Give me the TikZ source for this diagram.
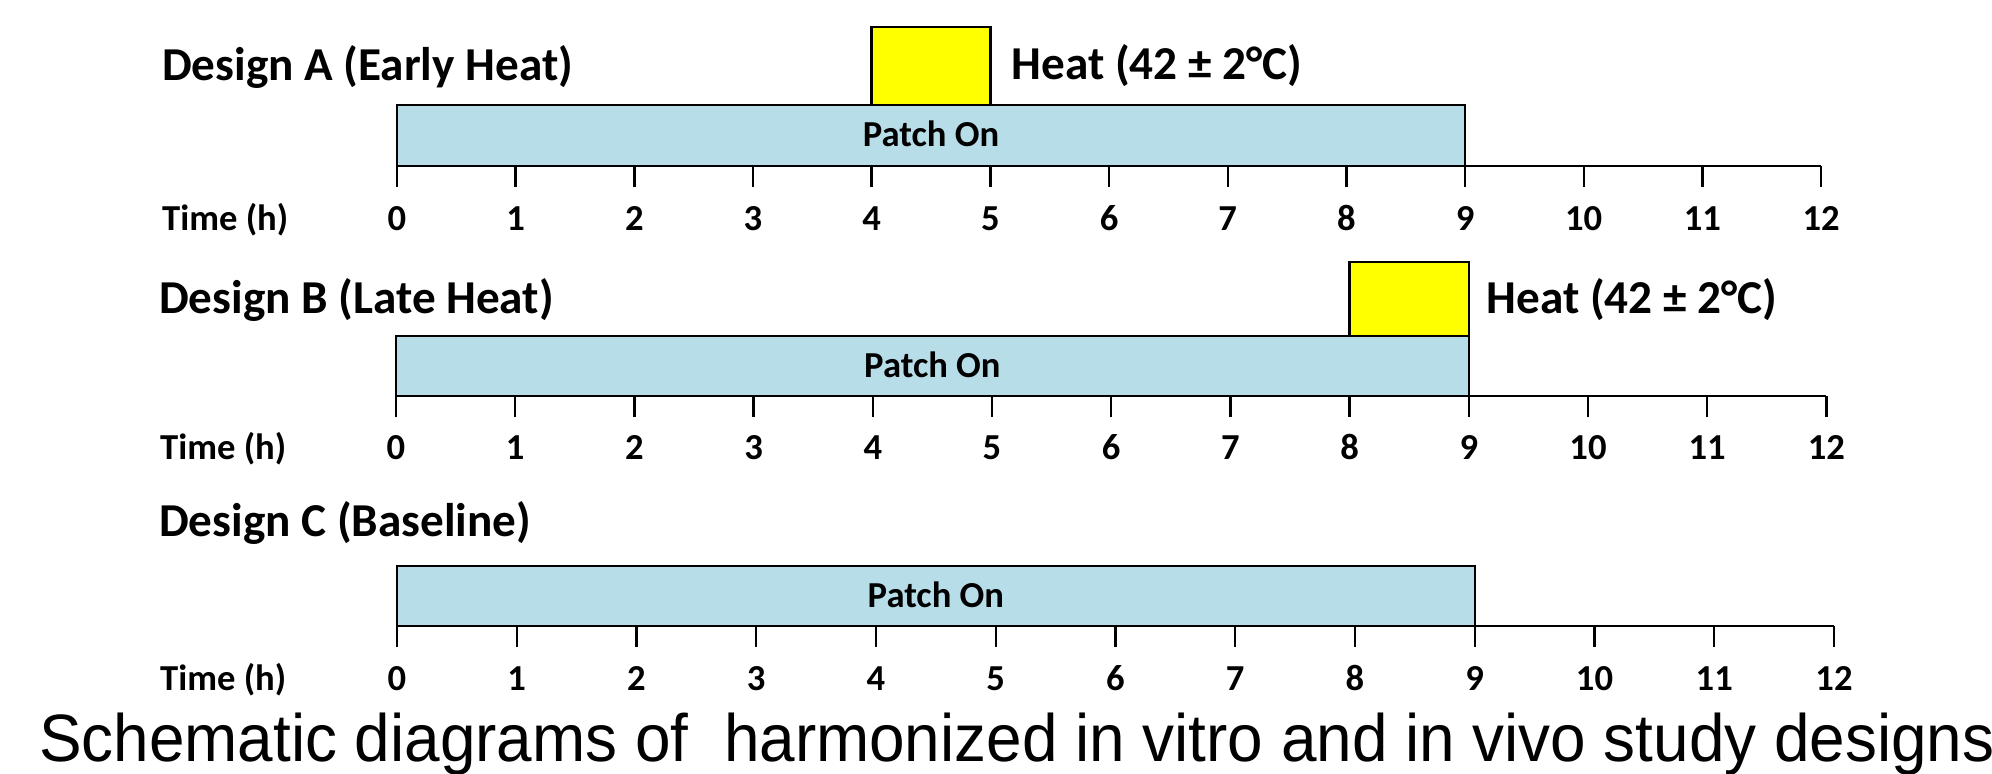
\documentclass[tikz,border=0pt]{standalone}
\usepackage{fontspec}
\setmainfont{Carlito}
\newfontfamily\captionfont[FakeStretch=0.953]{Liberation Sans}
\usetikzlibrary{positioning}
\definecolor{patchblue}{HTML}{B7DDE8}
\definecolor{heatyellow}{HTML}{FFFF00}

\begin{document}
\begin{tikzpicture}[x=0.5pt, y=-0.5pt, line width=1.2pt,
  designlabel/.style={font=\bfseries\fontsize{23.6}{28}\selectfont, inner sep=0pt, anchor=base west},
  heatlabel/.style={font=\bfseries\fontsize{23.6}{28}\selectfont, inner sep=0pt, anchor=base west},
  ticklabel/.style={font=\bfseries\fontsize{18.3}{22}\selectfont, inner sep=0pt, anchor=base},
  timelabel/.style={font=\bfseries\fontsize{18.3}{22}\selectfont, inner sep=0pt, anchor=base west},
  patchbar/.style={draw=black, fill=patchblue},
  heatbox/.style={draw=black, fill=heatyellow}]
\useasboundingbox (0,0) rectangle (1992,774);

% Design A
\node[designlabel] (designA) at (161,81) {Design A (Early Heat)};
\node[timelabel] (timeA) at (161,231) {Time (h)};
\begin{scope}[shift={(198.5pt,0pt)}, x=59.335pt]
  \draw[patchbar] (0,105) rectangle (9,166);
  \node[ticklabel] (patchA) at (4.5,147) {Patch On};
  \draw[heatbox] (4,27) rectangle (5,105);
  \node[heatlabel] (heatA) at (5.17,80) {Heat (42 ± 2°C)};
  \draw (0,166) -- (12,166);
  \foreach \t in {0,...,12} {
    \draw (\t,166) -- (\t,187);
    \node[ticklabel] (tickA\t) at (\t,231) {\t};
  }
\end{scope}

% Design B
\node[designlabel] (designB) at (158,314) {Design B (Late Heat)};
\node[timelabel] (timeB) at (159,460) {Time (h)};
\begin{scope}[shift={(198pt,0pt)}, x=59.6pt]
  \draw[patchbar] (0,336) rectangle (9,396);
  \node[ticklabel] (patchB) at (4.5,378) {Patch On};
  \draw[heatbox] (8,262) rectangle (9,336);
  \node[heatlabel] (heatB) at (9.14,314) {Heat (42 ± 2°C)};
  \draw (0,396) -- (12,396);
  \foreach \t in {0,...,12} {
    \draw (\t,396) -- (\t,417);
    \node[ticklabel] (tickB\t) at (\t,460) {\t};
  }
\end{scope}

% Design C
\node[designlabel] (designC) at (158,537) {Design C (Baseline)};
\node[timelabel] (timeC) at (159,690) {Time (h)};
\begin{scope}[shift={(198.5pt,0pt)}, x=59.875pt]
  \draw[patchbar] (0,566) rectangle (9,626);
  \node[ticklabel] (patchC) at (4.5,608) {Patch On};
  \draw (0,626) -- (12,626);
  \foreach \t in {0,...,12} {
    \draw (\t,626) -- (\t,647);
    \node[ticklabel] (tickC\t) at (\t,690) {\t};
  }
\end{scope}

\node[inner sep=0pt, anchor=base west, font=\captionfont\fontsize{33.5}{38}\selectfont]
  (caption) at (38,761) {Schematic diagrams of\ \ harmonized in vitro and in vivo study designs};
\end{tikzpicture}
\end{document}
